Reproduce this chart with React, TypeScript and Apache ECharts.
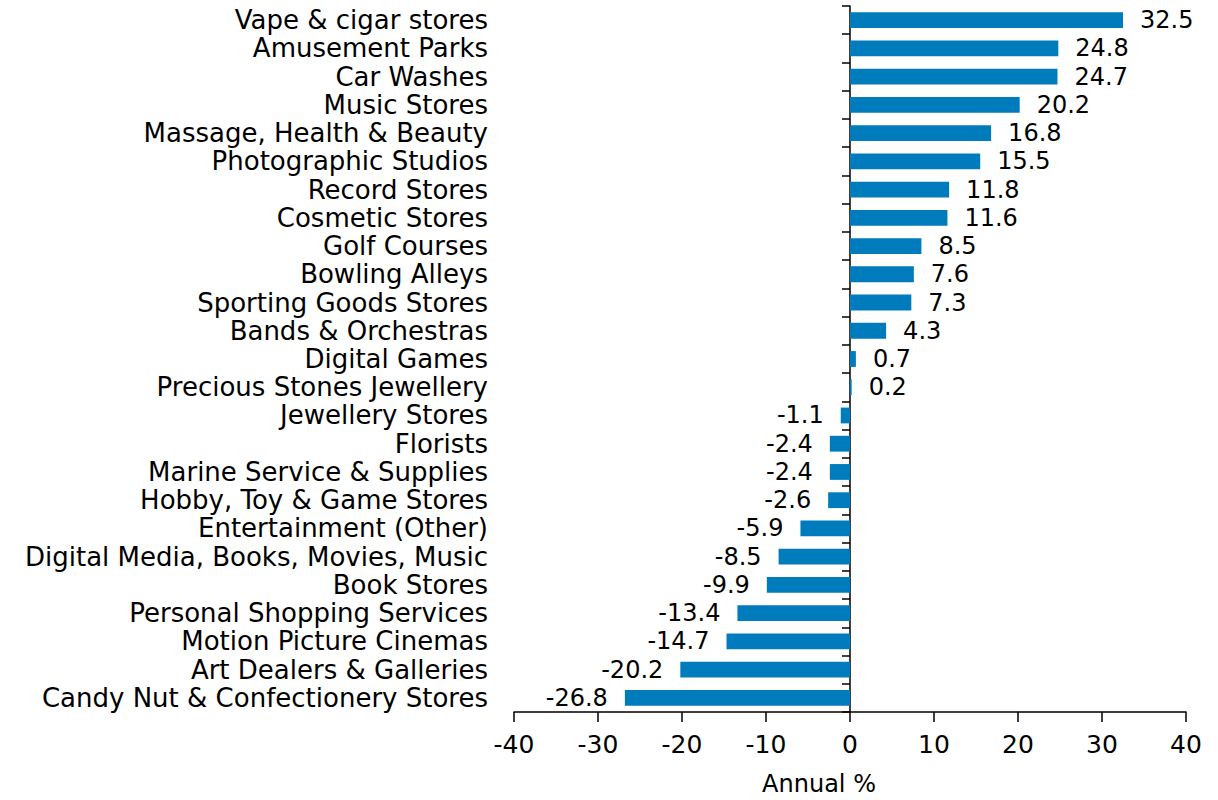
import React, { useEffect, useRef } from "react";
import * as echarts from "echarts";

const categories = [
  "Vape & cigar stores",
  "Amusement Parks",
  "Car Washes",
  "Music Stores",
  "Massage, Health & Beauty",
  "Photographic Studios",
  "Record Stores",
  "Cosmetic Stores",
  "Golf Courses",
  "Bowling Alleys",
  "Sporting Goods Stores",
  "Bands & Orchestras",
  "Digital Games",
  "Precious Stones Jewellery",
  "Jewellery Stores",
  "Florists",
  "Marine Service & Supplies",
  "Hobby, Toy & Game Stores",
  "Entertainment (Other)",
  "Digital Media, Books, Movies, Music",
  "Book Stores",
  "Personal Shopping Services",
  "Motion Picture Cinemas",
  "Art Dealers & Galleries",
  "Candy Nut & Confectionery Stores",
];

const values = [
  32.5, 24.8, 24.7, 20.2, 16.8, 15.5, 11.8, 11.6, 8.5, 7.6, 7.3, 4.3, 0.7, 0.2,
  -1.1, -2.4, -2.4, -2.6, -5.9, -8.5, -9.9, -13.4, -14.7, -20.2, -26.8,
];

const xTicks = { min: -40, max: 40, interval: 10 };
const axisName = "Annual %";

const FONT = "DejaVu Sans";
const BAR = "#007BBB";

export default function App() {
  const ref = useRef<HTMLDivElement>(null);
  useEffect(() => {
    if (!ref.current) return;
    const chart = echarts.init(ref.current, null, { renderer: "svg" });
    chart.setOption({
      animation: false,
      textStyle: { fontFamily: FONT },
      grid: { left: 514, right: 32, top: 6, bottom: 88, containLabel: false, outerBoundsMode: "none" },
      xAxis: {
        type: "value",
        min: xTicks.min,
        max: xTicks.max,
        interval: xTicks.interval,
        splitLine: { show: false },
        axisLine: { show: true, onZero: false, lineStyle: { color: "#000", width: 1.5 } },
        axisTick: { show: true, length: 10, lineStyle: { color: "#000", width: 1.5 } },
        axisLabel: { color: "#000", fontSize: 25, fontFamily: FONT, margin: 20 },
        name: axisName,
        nameLocation: "middle",
        nameGap: 60,
        nameTextStyle: { color: "#000", fontSize: 24, fontFamily: FONT, padding: [0, 62, 0, 0] },
      },
      yAxis: [
        {
          type: "category",
          data: categories,
          inverse: true,
          axisLine: { show: false, onZero: false },
          axisTick: { show: false },
          axisLabel: { color: "#000", fontSize: 26, fontFamily: FONT, margin: 26, interval: 0, hideOverlap: false },
        },
        {
          type: "category",
          data: categories,
          inverse: true,
          position: "left",
          axisLine: { show: true, onZero: true, lineStyle: { color: "#000", width: 1.5 } },
          axisTick: { show: true, length: 8, interval: 0, lineStyle: { color: "#000", width: 1.5 } },
          axisLabel: { show: false },
        },
      ],
      series: [
        {
          type: "bar",
          yAxisIndex: 0,
          barWidth: "56%",
          itemStyle: { color: BAR },
          data: values.map((v) => ({
            value: v,
            label: { position: v < 0 ? "left" : "right" },
          })),
          label: {
            show: true,
            distance: 17,
            color: "#000",
            fontSize: 24,
            fontFamily: FONT,
            formatter: (p: any) => Number(p.value).toFixed(1),
          },
        },
      ],
    });
    return () => chart.dispose();
  }, []);
  return (
    <div
      ref={ref}
      style={{ position: "fixed", left: 0, top: 0, width: 1218, height: 800, background: "#fff" }}
    />
  );
}
